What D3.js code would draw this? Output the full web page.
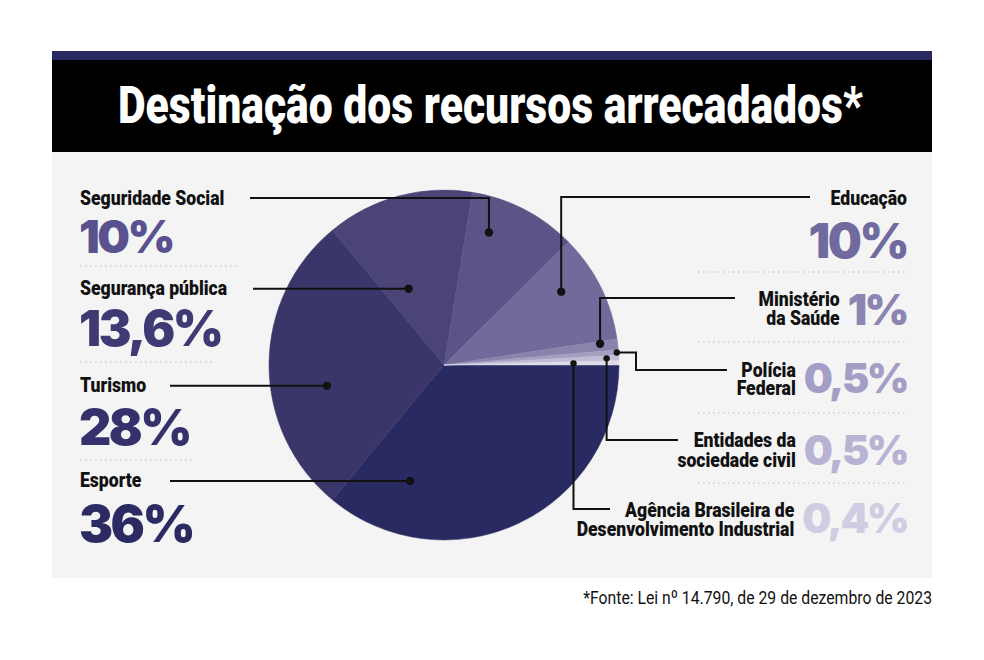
<!DOCTYPE html>
<html>
<head>
<meta charset="utf-8">
<script src="https://cdn.jsdelivr.net/npm/d3@7"></script>
<style>
  body { margin: 0; background: #fff; }
  .cond { font-family: Roboto, "Liberation Sans", sans-serif; }
  .big { font-family: Inter, "DejaVu Sans", sans-serif; font-weight: 900; }
</style>
</head>
<body>
<div id="chart"></div>
<script>
// Data
const categories = ["Esporte", "Turismo", "Segurança pública", "Seguridade Social", "Educação",
    "Ministério da Saúde", "Polícia Federal", "Entidades da sociedade civil",
    "Agência Brasileira de Desenvolvimento Industrial"];
const values = [36, 28, 13.6, 10, 10, 1, 0.5, 0.5, 0.4];
const valueLabels = ["36%", "28%", "13,6%", "10%", "10%", "1%", "0,5%", "0,5%", "0,4%"];
const labelLines = [["Esporte"], ["Turismo"], ["Segurança pública"], ["Seguridade Social"], ["Educação"],
    ["Ministério", "da Saúde"], ["Polícia", "Federal"], ["Entidades da", "sociedade civil"],
    ["Agência Brasileira de", "Desenvolvimento Industrial"]];
const sliceColors = ["#2a2a62", "#3a3669", "#4a4477", "#5b5487", "#716a9a", "#8a83ac", "#a49fc1", "#c1bcd5", "#dedbe8"];
const textColors = ["#2b2a62", "#35316c", "#3f3a74", "#5a5290", "#706a9e", "#8c85b3", "#a49ec6", "#b8b3d3", "#d0cce2"];
const title = "Destinação dos recursos arrecadados*";
const source = "*Fonte: Lei nº 14.790, de 29 de dezembro de 2023";

const width = 984, height = 660;
const cx = 444, cy = 365, R = 175;
const condense = 0.88;   // horizontal squeeze to fake a condensed face

// where each leader dot sits inside its slice: t = fraction of slice angle, r = fraction of radius
const dotPos = [
    {t: 0.82, r: 0.69}, {t: 0.40, r: 0.68}, {t: 0.30, r: 0.48}, {t: 0.26, r: 0.80}, {t: 0.35, r: 0.79},
    {t: 0.25, r: 0.90}, {t: 0.5, r: 0.99}, {t: 0.5, r: 0.93}, {t: 0.5, r: 0.74}
];
// label layout: side, label baselines, value baseline, leader start
const layout = [
    {side: "L", ly: [487], vy: 542, lx: 170, size: 51},
    {side: "L", ly: [392], vy: 445, lx: 170, size: 50},
    {side: "L", ly: [295], vy: 346, lx: 253, size: 49},
    {side: "L", ly: [205], vy: 253, lx: 250, size: 46},
    {side: "R", ly: [205], vy: 258, lx: 810, size: 48},
    {side: "R", ly: [306, 325], vy: 325, lx: 735, size: 43},
    {side: "R", ly: [377, 395], vy: 393, lx: 727, size: 41, elbow: 636, ey: 370},
    {side: "R", ly: [447, 467], vy: 465, lx: 678, size: 41, ey: 440},
    {side: "R", ly: [517, 536], vy: 533, lx: 610, size: 41, ey: 509}
];
const leftSeps = [{y: 266, x2: 240}, {y: 362, x2: 213}, {y: 460, x2: 195}];
const rightSeps = [272, 342, 413, 483];

const svg = d3.select("#chart").append("svg")
    .attr("width", width)
    .attr("height", height);

// condensed text: squeeze a normal face horizontally around its anchor,
// extra lines go in tspans below the first baseline
function condText(parent, x, y, lines, size, weight, anchor, fill, sx, gaps) {
    const t = parent.append("text")
        .attr("class", "cond")
        .attr("transform", `translate(${x}, ${y}) scale(${sx}, 1)`)
        .attr("text-anchor", anchor)
        .style("font-size", size + "px")
        .style("font-weight", weight)
        .attr("fill", fill);
    [].concat(lines).forEach((line, k) => {
        t.append("tspan")
            .attr("x", 0)
            .attr("dy", k === 0 ? 0 : gaps[k - 1])
            .text(line);
    });
    return t;
}
// same, but squeezed to fit a given width
function fitText(parent, x, y, str, size, weight, anchor, fill, w) {
    const t = condText(parent, x, y, str, size, weight, anchor, fill, 1);
    const sx = w / t.node().getComputedTextLength();
    t.attr("transform", `translate(${x}, ${y}) scale(${sx}, 1)`);
    return t;
}

// Frame: navy stripe, black title band, gray panel
svg.append("rect").attr("x", 52).attr("y", 51).attr("width", 880).attr("height", 10).attr("fill", "#2a2a62");
svg.append("rect").attr("x", 52).attr("y", 60).attr("width", 880).attr("height", 92).attr("fill", "#000");
svg.append("rect").attr("x", 52).attr("y", 152).attr("width", 880).attr("height", 426).attr("fill", "#f4f4f4");

fitText(svg, 118, 123, title, 51, 900, "start", "#fff", 745);
fitText(svg, 932, 604, source, 19, "normal", "end", "#111", 349);

// Pie
const pie = d3.pie().sort(null).value(d => d)
    .startAngle(Math.PI / 2).endAngle(Math.PI / 2 + 2 * Math.PI);
const arcs = pie(values);
const arc = d3.arc().innerRadius(0).outerRadius(R);

const g = svg.append("g").attr("transform", `translate(${cx}, ${cy})`);
g.selectAll("path")
    .data(arcs)
    .join("path")
        .attr("d", arc)
        .attr("fill", (d, i) => sliceColors[i])
        .attr("stroke", (d, i) => sliceColors[i])
        .attr("stroke-width", 0.5);

// dot positions from pie angles
const dots = arcs.map((a, i) => {
    const ang = a.startAngle + (a.endAngle - a.startAngle) * dotPos[i].t;
    const r = R * dotPos[i].r;
    return [cx + r * Math.sin(ang), cy - r * Math.cos(ang)];
});

// Separators
svg.append("g").selectAll("line")
    .data(leftSeps)
    .join("line")
        .attr("x1", 80).attr("x2", d => d.x2)
        .attr("y1", d => d.y).attr("y2", d => d.y)
        .attr("stroke", "#d0d0d0").attr("stroke-width", 1.5)
        .attr("stroke-dasharray", "1.5 3.5");
svg.append("g").selectAll("line")
    .data(rightSeps)
    .join("line")
        .attr("x1", 698).attr("x2", 907)
        .attr("y1", d => d).attr("y2", d => d)
        .attr("stroke", "#d0d0d0").attr("stroke-width", 1.5)
        .attr("stroke-dasharray", "1.5 3.5");

// Leaders
const leaderPath = (i) => {
    const L = layout[i], [dx, dy] = dots[i];
    if (L.side === "L") {
        if (i === 3) return `M${L.lx},${L.ly[0] - 7}H${dx}V${dy}`;
        return `M${L.lx},${dy}H${dx}`;
    }
    if (i === 4 || i === 5) return `M${L.lx},${L.ly[0] - 8}H${dx}V${dy}`;
    if (L.elbow) return `M${dx},${dy}H${L.elbow}V${L.ey}H${L.lx}`;
    return `M${dx},${dy}V${L.ey}H${L.lx}`;
};
svg.append("g").selectAll("path")
    .data(arcs)
    .join("path")
        .attr("d", (d, i) => leaderPath(i))
        .attr("fill", "none")
        .attr("stroke", "#111")
        .attr("stroke-width", 2);
svg.append("g").selectAll("circle")
    .data(dots)
    .join("circle")
        .attr("cx", d => d[0]).attr("cy", d => d[1])
        .attr("r", (d, i) => i >= 6 ? 3.2 : 4.2)
        .attr("fill", "#111");

// Labels and values
const labelG = svg.append("g");
arcs.forEach((a, i) => {
    const L = layout[i];
    const val = labelG.append("text")
        .attr("class", "big")
        .attr("x", L.side === "L" ? 79 : 907)
        .attr("y", L.vy)
        .attr("text-anchor", L.side === "L" ? "start" : "end")
        .style("font-size", L.size + "px")
        .style("letter-spacing", "-2.5px")
        .attr("fill", textColors[i])
        .text(valueLabels[i]);
    let lx, anchor;
    if (L.side === "L") { lx = 80; anchor = "start"; }
    else if (labelLines[i].length === 1) { lx = 907; anchor = "end"; }
    else { lx = 907 - val.node().getComputedTextLength() - 8; anchor = "end"; }
    const gaps = L.ly.slice(1).map((y, k) => y - L.ly[k]);
    condText(labelG, lx, L.ly[0], labelLines[i], 20, 900, anchor, "#111", condense, gaps);
});
</script>
</body>
</html>
